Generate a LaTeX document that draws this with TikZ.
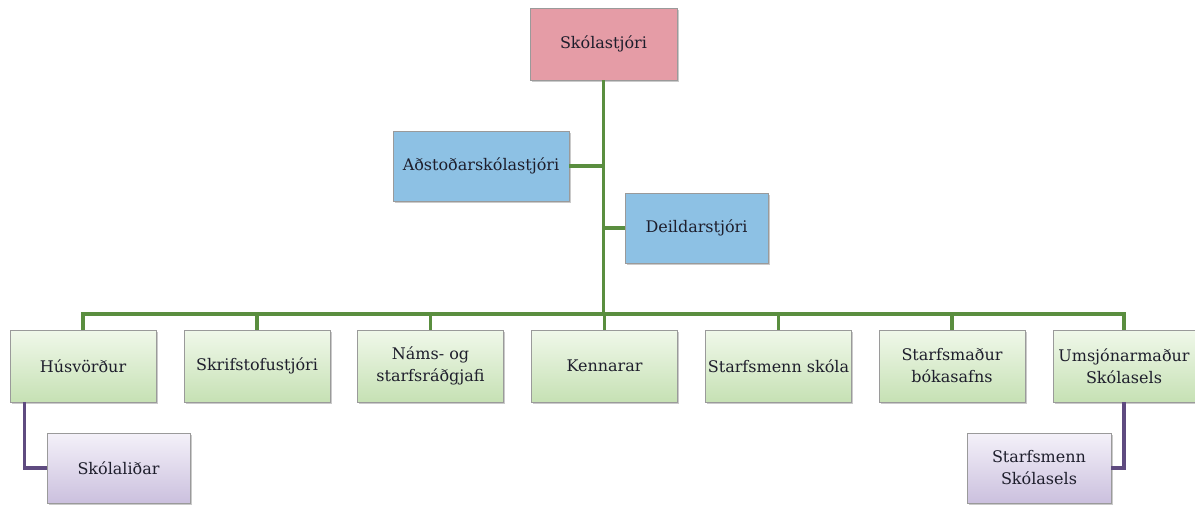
\documentclass[tikz,border=0pt]{standalone}
\usepackage{fontspec}
\setmainfont{DejaVu Serif}
\usetikzlibrary{shadows}
\definecolor{txt}{HTML}{1E1E2C}
\definecolor{bossfill}{HTML}{E59CA6}
\definecolor{bluefill}{HTML}{8DC1E4}
\definecolor{greentop}{HTML}{F0F8EA}
\definecolor{greenbot}{HTML}{C6E1B4}
\definecolor{purptop}{HTML}{F4F1F9}
\definecolor{purpbot}{HTML}{CBC0DE}
\definecolor{greenline}{HTML}{5A8E3F}
\definecolor{purpline}{HTML}{5F4B80}
\definecolor{boxdraw}{HTML}{9A9A9A}
\tikzset{
  box/.style={draw=boxdraw, line width=0.6pt, align=center, text=txt,
    font=\fontsize{16}{22}\selectfont, inner sep=2pt,
    drop shadow={shadow xshift=1.5pt, shadow yshift=-2pt, opacity=0.35, fill=black!60}},
  bossbox/.style={box, fill=bossfill, minimum width=147pt, minimum height=72pt},
  bluebox/.style={box, fill=bluefill, minimum height=70pt},
  greenbox/.style={box, top color=greentop, bottom color=greenbot, minimum width=146pt, minimum height=72pt},
  purpbox/.style={box, top color=purptop, bottom color=purpbot, minimum width=144pt, minimum height=70pt},
  gline/.style={draw=greenline, line width=3.6pt},
  pline/.style={draw=purpline, line width=3.2pt},
}
\begin{document}
\begin{tikzpicture}[x=1pt, y=-1pt]
\useasboundingbox (0,0) rectangle (1195,504);
\node[bossbox] (boss) at (603.5,44) {Skólastjóri};
\node[bluebox, minimum width=176pt] (asst) at (481,166) {Aðstoðarskólastjóri};
\node[bluebox, minimum width=143pt] (dept) at (696.5,228) {Deildarstjóri};
\node[greenbox] (n1) at (83,366) {Húsvörður};
\node[greenbox] (n2) at (257,366) {Skrifstofustjóri};
\node[greenbox] (n3) at (430.5,366) {Náms- og\\starfsráðgjafi};
\node[greenbox] (n4) at (604.5,366) {Kennarar};
\node[greenbox] (n5) at (778.5,366) {Starfsmenn skóla};
\node[greenbox] (n6) at (952,366) {Starfsmaður\\bókasafns};
\node[greenbox, minimum width=142pt] (n7) at (1124,366) {Umsjónarmaður\\Skólasels};
\node[purpbox, minimum width=143pt] (sk) at (118.5,468) {Skólaliðar};
\node[purpbox] (ss) at (1039,468) {Starfsmenn\\Skólasels};
\coordinate (bus) at (0,314);
\path[gline] (boss.south) -- (boss.south |- bus);
\path[gline] (asst.east) -- (asst.east -| boss.south);
\path[gline] (dept.west) -- (dept.west -| boss.south);
\path[gline] (n1.north) -- (n1.north |- bus) -- (n7.north |- bus) -- (n7.north);
\foreach \n in {n2,n3,n4,n5,n6} { \path[gline] (\n.north) -- (\n.north |- bus); }
\path[pline] ([xshift=15pt]n1.south west) -- ([xshift=15pt]n1.south west |- sk.west) -- (sk.west);
\path[pline] (n7.south) -- (n7.south |- ss.east) -- (ss.east);
\end{tikzpicture}
\end{document}
